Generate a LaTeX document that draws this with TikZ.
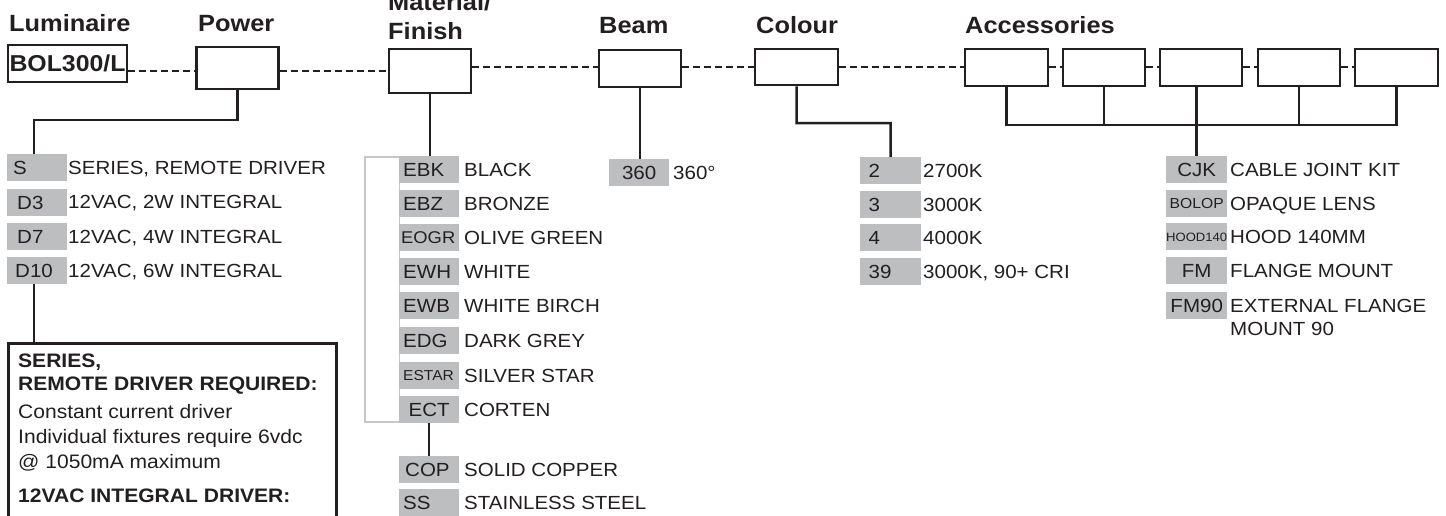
\documentclass[tikz,border=0pt]{standalone}
\usepackage{fontspec}
\setmainfont{Liberation Sans}[FakeStretch=1.08]
\usetikzlibrary{calc}
\definecolor{ink}{HTML}{231F20}
\definecolor{codegrey}{HTML}{BCBEC0}
\definecolor{bracketgrey}{HTML}{C6C7C9}
\begin{document}
\begin{tikzpicture}[x=1pt,y=-1pt,
  every node/.style={inner sep=0pt, text=ink},
  body/.style={font=\fontsize{19}{22}\selectfont},
  head/.style={font=\bfseries\fontsize{23.5}{26}\selectfont, anchor=base west},
  topbox/.style={draw=ink, line width=2.5pt, minimum width=82pt, minimum height=38pt},
  code/.style={body, fill=codegrey, minimum width=60pt, minimum height=27pt, text height=13.6pt, text depth=0pt, anchor=north west},
  codel/.style={code, text width=#1, align=left},
  small/.style={font=\fontsize{#1}{#1}\selectfont, text height=0.716*#1},
  desc/.style={body, anchor=base west},
  conn/.style={draw=ink, line width=2.5pt},
  dotline/.style={draw=ink, line width=2pt, dash pattern=on 7pt off 4pt},
  notetext/.style={font=\fontsize{19.5}{22}\selectfont, anchor=base west},
  notebold/.style={font=\bfseries\fontsize{19.5}{22}\selectfont, anchor=base west}]
\useasboundingbox (0,0) rectangle (1446,515);
\clip (0,0) rectangle (1446,515);
\fill[white] (0,0) rectangle (1446,515);

% headings
\node[head] (hLum) at (9,31) {Luminaire};
\node[head] (hPow) at (198,31) {Power};
\node[head] (hMat1) at (388,10) {Material/};
\node[head] (hMat2) at (388,39) {Finish};
\node[head] (hBeam) at (599,33) {Beam};
\node[head] (hCol) at (756,33) {Colour};
\node[head] (hAcc) at (965,33) {Accessories};

% top boxes
\node[topbox, minimum width=119pt, minimum height=37pt, font=\bfseries\fontsize{23}{26}\selectfont, text height=16.5pt, text depth=0pt] (lum) at (67.5,63.5) {BOL300/L};
\node[topbox, minimum height=42pt] (pow) at (237.5,68) {};
\node[topbox, minimum height=44pt] (mat) at (430,71) {};
\node[topbox, minimum height=37pt] (beam) at (640,68.5) {};
\node[topbox, minimum width=83pt, minimum height=36pt] (col) at (796.5,67) {};
\node[topbox, minimum width=83pt, minimum height=37pt] (acc1) at (1006.5,67.5) {};
\node[topbox, minimum height=37pt] (acc2) at (1104,67.5) {};
\node[topbox, minimum height=37pt] (acc3) at (1201,67.5) {};
\node[topbox, minimum height=37pt] (acc4) at (1299,67.5) {};
\node[topbox, minimum width=83pt, minimum height=37pt] (acc5) at (1396.5,67.5) {};

% dotted chain
\coordinate (dA) at (0,71);
\coordinate (dB) at (0,66.5);
\draw[dotline] (lum.east |- dA) -- (pow.west |- dA);
\draw[dotline] (pow.east |- dA) -- (mat.west |- dA);
\draw[dotline] (mat.east |- dB) -- (beam.west |- dB);
\draw[dotline] (beam.east |- dB) -- (col.west |- dB);
\draw[dotline] (col.east |- dB) -- (acc1.west |- dB);
\draw[dotline] (acc1.east |- dB) -- (acc2.west |- dB);
\draw[dotline] (acc2.east |- dB) -- (acc3.west |- dB);
\draw[dotline] (acc3.east |- dB) -- (acc4.west |- dB);
\draw[dotline] (acc4.east |- dB) -- (acc5.west |- dB);

% Power options
\node[codel=48pt] (pS) at (7,154) {S};
\node[codel=40pt] (pD3) at (7,188.5) {D3};
\node[codel=40pt] (pD7) at (7,223) {D7};
\node[codel=44pt] (pD10) at (7,257) {D10};
\node[desc] (tS) at (68,174) {SERIES, REMOTE DRIVER};
\node[desc] (tD3) at (68,208.5) {12VAC, 2W INTEGRAL};
\node[desc] (tD7) at (68,243) {12VAC, 4W INTEGRAL};
\node[desc] (tD10) at (68,277) {12VAC, 6W INTEGRAL};
\coordinate (pcorner) at (34,120);
\draw[conn] (pow.south) |- (pcorner) -- (pS.north -| pcorner);

% note box
\node[draw=ink, line width=2.5pt, minimum width=328pt, minimum height=200pt, anchor=north west] (note) at (7,342) {};
\draw[conn] (pD10.south -| pcorner) -- (note.north -| pcorner);
\node[notebold] (n1) at (18,367) {SERIES,};
\node[notebold] (n2) at (18,390) {REMOTE DRIVER REQUIRED:};
\node[notetext] (n3) at (18,418) {Constant current driver};
\node[notetext] (n4) at (18,443) {Individual fixtures require 6vdc};
\node[notetext] (n5) at (18,468) {@ 1050mA maximum};
\node[notebold] (n6) at (18,502) {12VAC INTEGRAL DRIVER:};

% Material / Finish options
\draw[bracketgrey, line width=1.5pt] (365,157) rectangle (399.5,422);
\node[codel=52pt] (mEBK) at (399,156) {EBK};
\node[codel=52pt] (mEBZ) at (399,190) {EBZ};
\node[codel=56pt, small=17] (mEOGR) at (399,224) {EOGR};
\node[codel=52pt] (mEWH) at (399,258) {EWH};
\node[codel=52pt] (mEWB) at (399,292) {EWB};
\node[codel=52pt] (mEDG) at (399,326.5) {EDG};
\node[codel=52pt, small=14.4] (mESTAR) at (399,361.5) {ESTAR};
\node[code] (mECT) at (399,396) {ECT};
\node[codel=48pt] (mCOP) at (399,456) {COP};
\node[codel=52pt] (mSS) at (399,489) {SS};
\node[desc] (tEBK) at (464,176.5) {BLACK};
\node[desc] (tEBZ) at (464,210.5) {BRONZE};
\node[desc] (tEOGR) at (464,244.5) {OLIVE GREEN};
\node[desc] (tEWH) at (464,278.5) {WHITE};
\node[desc] (tEWB) at (464,312.5) {WHITE BIRCH};
\node[desc] (tEDG) at (464,347) {DARK GREY};
\node[desc] (tESTAR) at (464,382) {SILVER STAR};
\node[desc] (tECT) at (464,416.5) {CORTEN};
\node[desc] (tCOP) at (464,476.5) {SOLID COPPER};
\node[desc] (tSS) at (464,509.5) {STAINLESS STEEL};
\draw[conn] (mat.south) -- (mat.south |- mEBK.north);
\draw[conn] (mECT.south) -- (mCOP.north);

% Beam
\node[code] (b360) at (609,159) {360};
\node[desc] (t360) at (673,179.5) {360°};
\draw[conn] (beam.south) -- (beam.south |- b360.north);

% Colour
\node[codel=44pt, minimum width=61pt] (c2) at (860,157) {2};
\node[codel=44pt, minimum width=61pt] (c3) at (860,190.5) {3};
\node[codel=44pt, minimum width=61pt] (c4) at (860,224) {4};
\node[codel=44pt, minimum width=61pt] (c39) at (860,258) {39};
\node[desc] (t2) at (923,177.5) {2700K};
\node[desc] (t3) at (923,211) {3000K};
\node[desc] (t4) at (923,244.5) {4000K};
\node[desc] (t39) at (923,278.5) {3000K, 90+ CRI};
\coordinate (ccorner) at (890.5,123);
\draw[conn] (col.south) |- (ccorner) -- (c2.north);

% Accessories
\node[code, minimum width=61pt] (aCJK) at (1166,156) {CJK};
\node[code, minimum width=61pt, small=14.5] (aBOLOP) at (1166,189.5) {BOLOP};
\node[code, minimum width=61pt, small=12.1] (aHOOD) at (1166,223) {HOOD140};
\node[code, minimum width=61pt] (aFM) at (1166,257) {FM};
\node[code, minimum width=61pt] (aFM90) at (1166,292) {FM90};
\node[desc] (tCJK) at (1230,176.5) {CABLE JOINT KIT};
\node[desc] (tBOLOP) at (1230,210) {OPAQUE LENS};
\node[desc] (tHOOD) at (1230,243.5) {HOOD 140MM};
\node[desc] (tFM) at (1230,277.5) {FLANGE MOUNT};
\node[desc] (tFM90a) at (1230,312.5) {EXTERNAL FLANGE};
\node[desc] (tFM90b) at (1230,335.5) {MOUNT 90};
\coordinate (bus) at (0,125);
\draw[conn] (acc1.south) -- (acc1.south |- bus) -- (acc5.south |- bus) -- (acc5.south);
\draw[conn] (acc2.south) -- (acc2.south |- bus);
\draw[conn] (acc4.south) -- (acc4.south |- bus);
\draw[conn] (acc3.south -| aCJK.north) -- (aCJK.north);
\end{tikzpicture}
\end{document}
